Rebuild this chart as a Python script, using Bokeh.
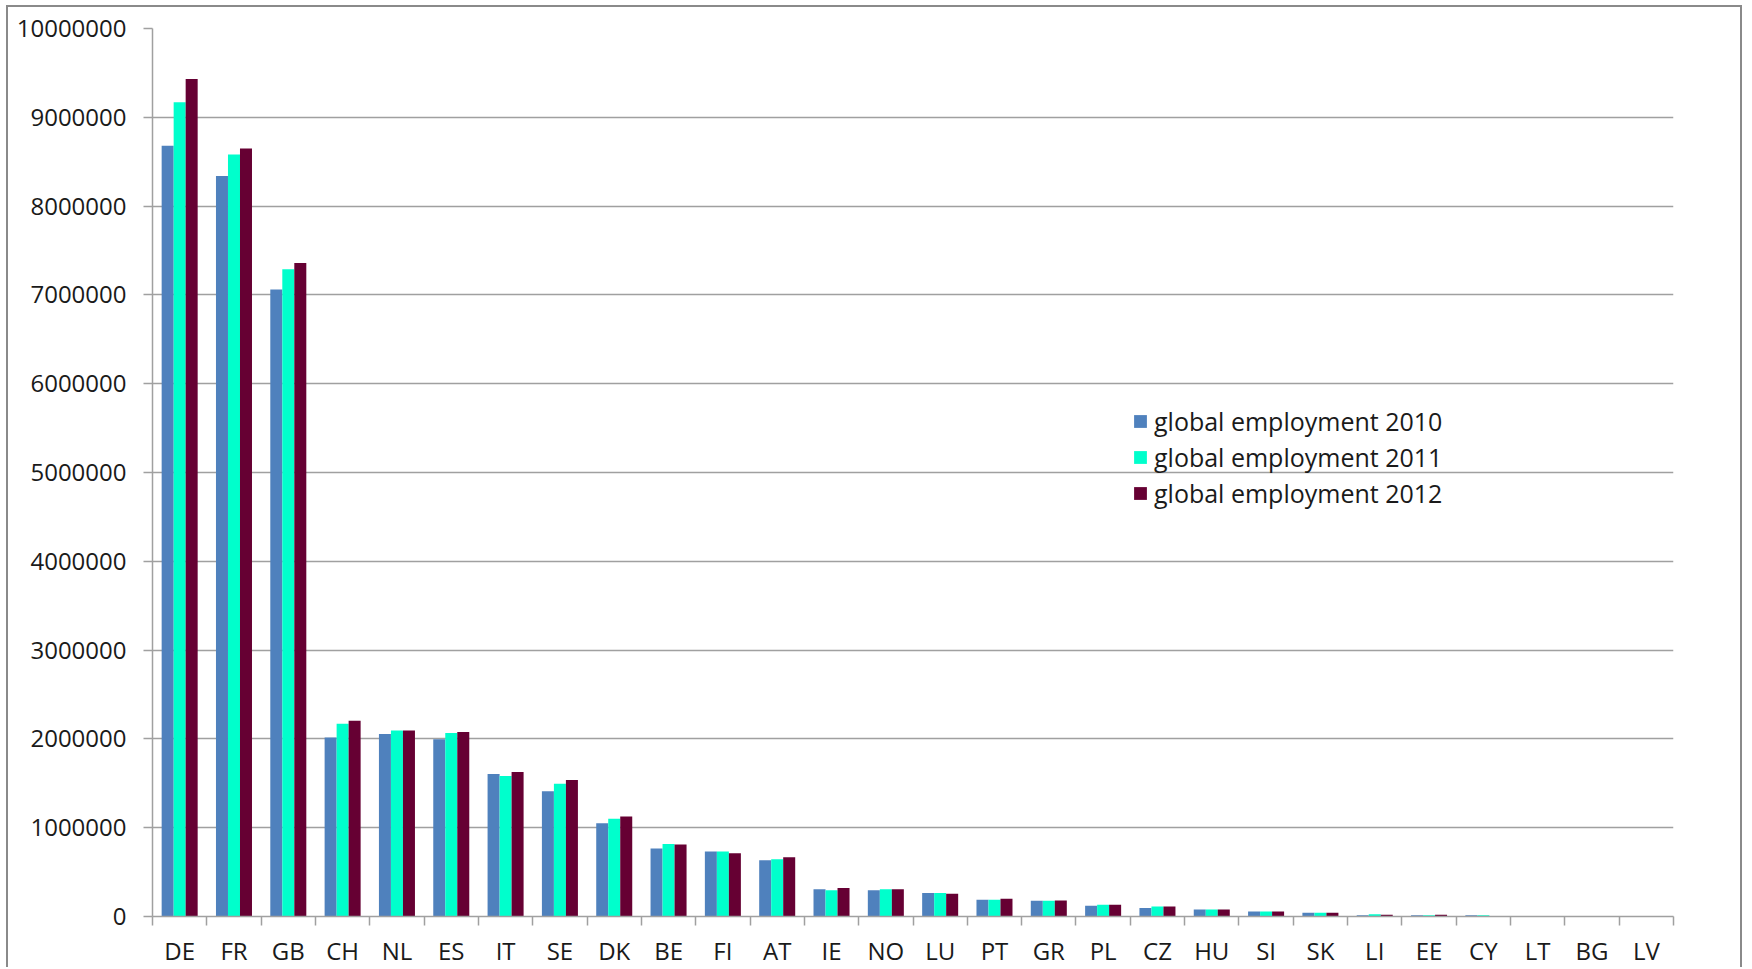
from bokeh.plotting import figure
from bokeh.models import (Range1d, FixedTicker, LinearAxis, Grid, Legend, LegendItem,
                          ColumnDataSource)
from bokeh.transform import dodge
from bokeh.embed import file_html
from bokeh.resources import INLINE

countries = ["DE", "FR", "GB", "CH", "NL", "ES", "IT", "SE", "DK", "BE", "FI", "AT", "IE", "NO",
             "LU", "PT", "GR", "PL", "CZ", "HU", "SI", "SK", "LI", "EE", "CY", "LT", "BG", "LV"]
emp_2010 = [8680000, 8340000, 7060000, 2017000, 2055000, 1995000, 1605000, 1410000, 1050000,
            765000, 731000, 634000, 307000, 296000, 266000, 188000, 176000, 120000, 97000,
            79000, 56000, 41000, 15000, 15000, 15000, 0, 0, 0]
emp_2011 = [9170000, 8580000, 7290000, 2171000, 2096000, 2066000, 1582000, 1496000, 1100000,
            817000, 731000, 645000, 296000, 307000, 266000, 188000, 176000, 131000, 112000,
            79000, 56000, 41000, 26000, 15000, 15000, 0, 0, 0]
emp_2012 = [9430000, 8650000, 7360000, 2205000, 2096000, 2077000, 1628000, 1537000, 1125000,
            810000, 712000, 667000, 322000, 307000, 255000, 199000, 180000, 131000, 112000,
            79000, 56000, 41000, 19000, 19000, 0, 0, 0, 0]
series_names = ["global employment 2010", "global employment 2011", "global employment 2012"]
series_colors = ["#4F81BD", "#00FFCC", "#660033"]
y_ticks = [0, 1000000, 2000000, 3000000, 4000000, 5000000, 6000000, 7000000, 8000000, 9000000, 10000000]
y_tick_labels = ["0", "1000000", "2000000", "3000000", "4000000", "5000000", "6000000",
                 "7000000", "8000000", "9000000", "10000000"]

n = len(countries)
src = ColumnDataSource(dict(
    x=[i + 0.5 for i in range(n)],
    country=countries,
    y2010=emp_2010, y2011=emp_2011, y2012=emp_2012,
))

p = figure(width=1736, height=962, x_range=Range1d(0, n), y_range=Range1d(0, 10000000),
           x_axis_type=None, y_axis_type=None, output_backend="svg", toolbar_location=None,
           min_border_left=144, min_border_right=71, min_border_top=21, min_border_bottom=52)
p.outline_line_color = None
p.background_fill_color = "white"
p.border_fill_color = "white"
p.styles = {"margin-left": "6px", "margin-top": "5px",
            "border-left": "2px solid #8a8a8a", "border-top": "2px solid #8a8a8a",
            "border-right": "2px solid #8a8a8a"}

GRAY = "#A0A0A0"
FONT = "Open Sans"

yticker = FixedTicker(ticks=y_ticks)
yaxis = LinearAxis(ticker=yticker,
                   major_label_overrides={t: l for t, l in zip(y_ticks, y_tick_labels)})
yaxis.axis_line_color = GRAY
yaxis.axis_line_width = 1.5
yaxis.major_tick_line_color = GRAY
yaxis.major_tick_line_width = 1.5
yaxis.major_tick_out = 9
yaxis.major_tick_in = 0
yaxis.minor_tick_line_color = None
yaxis.major_label_text_font = FONT
yaxis.major_label_text_font_size = "24px"
yaxis.major_label_text_color = "#1a1a1a"
yaxis.major_label_standoff = 17
p.add_layout(yaxis, "left")

xticker = FixedTicker(ticks=[i + 0.5 for i in range(n)], minor_ticks=list(range(n + 1)))
xaxis = LinearAxis(ticker=xticker,
                   major_label_overrides={i + 0.5: c for i, c in enumerate(countries)})
xaxis.axis_line_color = GRAY
xaxis.axis_line_width = 1.5
xaxis.major_tick_line_color = None
xaxis.major_tick_out = 0
xaxis.major_tick_in = 0
xaxis.minor_tick_line_color = GRAY
xaxis.minor_tick_line_width = 1.5
xaxis.minor_tick_out = 9
xaxis.minor_tick_in = 0
xaxis.major_label_text_font = FONT
xaxis.major_label_text_font_size = "24px"
xaxis.major_label_text_color = "#1a1a1a"
xaxis.major_label_standoff = 8
p.add_layout(xaxis, "below")

grid = Grid(dimension=1, ticker=yticker, grid_line_color=GRAY, grid_line_width=1.5)
p.add_layout(grid)

w = 0.221
r1 = p.vbar(x=dodge("x", -w, range=p.x_range), top="y2010", width=w, source=src,
            fill_color=series_colors[0], line_color=None)
r2 = p.vbar(x=dodge("x", 0.0, range=p.x_range), top="y2011", width=w, source=src,
            fill_color=series_colors[1], line_color=None)
r3 = p.vbar(x=dodge("x", w, range=p.x_range), top="y2012", width=w, source=src,
            fill_color=series_colors[2], line_color=None)

legend = Legend(items=[LegendItem(label=series_names[0], renderers=[r1]),
                       LegendItem(label=series_names[1], renderers=[r2]),
                       LegendItem(label=series_names[2], renderers=[r3])],
                location=(980, 406))
legend.border_line_color = None
legend.background_fill_alpha = 0
legend.padding = 0
legend.margin = 0
legend.spacing = 2
legend.glyph_width = 16
legend.glyph_height = 16
legend.label_standoff = 6
legend.label_text_font = FONT
legend.label_text_font_size = "25px"
legend.label_text_color = "#1a1a1a"
p.add_layout(legend, "center")

open("out.html", "w").write(file_html(p, INLINE))
